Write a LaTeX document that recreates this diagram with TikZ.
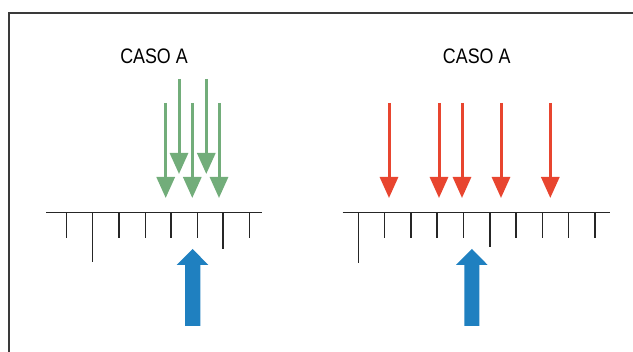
\documentclass[tikz,border=0pt]{standalone}
\usepackage{fontspec}
\setmainfont{Liberation Sans}
\usetikzlibrary{arrows.meta}
\definecolor{frameg}{HTML}{3A3A3A}
\definecolor{greenA}{HTML}{72AD7A}
\definecolor{redA}{HTML}{E8452F}
\definecolor{blueA}{HTML}{1F80C0}
\tikzset{
  caption/.style={font=\fontsize{21}{21}\selectfont, text=black, inner sep=0pt},
  frameline/.style={draw=frameg, line width=1.6pt},
  rule/.style={draw=black!85, line width=1.4pt},
  tickline/.style={draw=black!85, line width=1.4pt},
  loadgreen/.style={draw=greenA, line width=3pt, -{Triangle[width=18pt,length=21pt]}},
  loadred/.style={draw=redA, line width=3pt, -{Triangle[width=18pt,length=21pt]}},
  push/.style={fill=blueA, draw=none}
}
\begin{document}
\begin{tikzpicture}[x=1pt,y=-1pt]
\useasboundingbox (0,0) rectangle (633,352);
% frame
\coordinate (fbl) at (9,352);
\coordinate (ftl) at (9,13);
\coordinate (ftr) at (633,13);
\draw[frameline] (fbl) -- (ftl) -- (ftr);

% ---------------- left panel ----------------
\node[caption] (capL) at (154,56) {\scalebox{0.85}[1]{CASO A}};
\coordinate (bL1) at (46,212.7);
\coordinate (bL2) at (262,212.7);
\draw[rule] (bL1) -- (bL2);
\foreach \x/\e in {66.7/238, 92.7/262, 119/238, 145.3/238, 171/238, 197.3/238, 223/249.5, 249.3/238}
  \draw[tickline] (\x,212.7) -- (\x,\e);
% green loads
\foreach \x/\t/\b in {165.7/103/198, 179/79/174, 192.3/103/198, 206.3/79/174, 219/103/198}
  \draw[loadgreen] (\x,\t) -- (\x,\b);
% blue reaction
\fill[push] (192.7,249) -- (208.3,265) -- (200.3,265) -- (200.3,326) -- (185,326) -- (185,265) -- (176.7,265) -- cycle;

% ---------------- right panel ----------------
\node[caption] (capR) at (476.7,56) {\scalebox{0.85}[1]{CASO A}};
\coordinate (bR1) at (342.7,212.7);
\coordinate (bR2) at (610,212.7);
\draw[rule] (bR1) -- (bR2);
\foreach \x/\e in {358.3/263, 384.7/238, 411/238, 437/238, 463.3/238, 490/246.7, 516/238, 542.3/238, 568.7/238, 595/238}
  \draw[tickline] (\x,212.7) -- (\x,\e);
% red loads
\foreach \x in {389, 439, 462, 501, 550.3}
  \draw[loadred] (\x,103) -- (\x,198);
% blue reaction
\fill[push] (472,249) -- (487.7,265) -- (479.3,265) -- (479.3,326) -- (464.3,326) -- (464.3,265) -- (456,265) -- cycle;
\end{tikzpicture}
\end{document}
